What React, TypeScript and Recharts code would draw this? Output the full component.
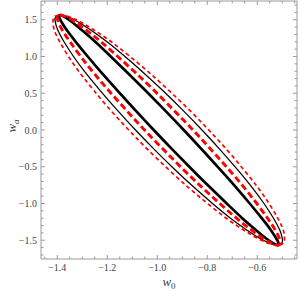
import React from 'react';
import { LineChart, Line, XAxis, YAxis, Label } from 'recharts';

// shared w_a levels (rows)
const yLevels = [1.567, 1.54, 1.47, 1.36, 1.2, 1.0, 0.78, 0.54, 0.27, 0, -0.27, -0.54, -0.78, -1.0, -1.2, -1.36, -1.47, -1.54, -1.567];

// thick black solid contour: right / left w0 at each level
const thickBlackRight = [-1.389, -1.371, -1.341, -1.302, -1.248, -1.186, -1.119, -1.048, -0.970, -0.894, -0.820, -0.748, -0.685, -0.630, -0.582, -0.546, -0.525, -0.515, -0.519];
const thickBlackLeft = [-1.389, -1.393, -1.383, -1.362, -1.326, -1.278, -1.223, -1.160, -1.088, -1.014, -0.938, -0.860, -0.789, -0.722, -0.660, -0.606, -0.567, -0.537, -0.519];

// thick red dashed contour
const thickRedRight = [-1.389, -1.364, -1.329, -1.284, -1.225, -1.158, -1.087, -1.013, -0.934, -0.857, -0.784, -0.713, -0.653, -0.602, -0.559, -0.528, -0.512, -0.508, -0.519];
const thickRedLeft = [-1.389, -1.400, -1.396, -1.380, -1.349, -1.306, -1.255, -1.195, -1.124, -1.051, -0.974, -0.895, -0.821, -0.750, -0.683, -0.624, -0.579, -0.544, -0.519];

// thin black solid contour
const thinBlackRight = [-1.389, -1.357, -1.316, -1.266, -1.201, -1.129, -1.055, -0.979, -0.898, -0.821, -0.748, -0.679, -0.621, -0.573, -0.535, -0.510, -0.500, -0.501, -0.519];
const thinBlackLeft = [-1.389, -1.407, -1.408, -1.398, -1.373, -1.335, -1.287, -1.229, -1.160, -1.087, -1.010, -0.929, -0.853, -0.779, -0.707, -0.642, -0.592, -0.551, -0.519];

// thin red dashed contour
const thinRedRight = [-1.389, -1.352, -1.307, -1.253, -1.184, -1.109, -1.032, -0.954, -0.871, -0.794, -0.721, -0.654, -0.598, -0.553, -0.518, -0.496, -0.491, -0.496, -0.519];
const thinRedLeft = [-1.389, -1.412, -1.417, -1.412, -1.390, -1.355, -1.310, -1.254, -1.187, -1.114, -1.037, -0.954, -0.876, -0.799, -0.724, -0.655, -0.601, -0.556, -0.519];

const xTicks = [-1.45, -1.4, -1.35, -1.3, -1.25, -1.2, -1.15, -1.1, -1.05, -1.0, -0.95, -0.9, -0.85, -0.8, -0.75, -0.7, -0.65, -0.6, -0.55, -0.5, -0.45];
const xMajor = [-1.4, -1.2, -1.0, -0.8, -0.6];
const yTicks = [-1.7, -1.6, -1.5, -1.4, -1.3, -1.2, -1.1, -1.0, -0.9, -0.8, -0.7, -0.6, -0.5, -0.4, -0.3, -0.2, -0.1, 0, 0.1, 0.2, 0.3, 0.4, 0.5, 0.6, 0.7, 0.8, 0.9, 1.0, 1.1, 1.2, 1.3, 1.4, 1.5, 1.6, 1.7];
const yMajor = [-1.5, -1.0, -0.5, 0, 0.5, 1.0, 1.5];

const FRAME = '#9a9a9a';
const TEXT = '#444';
const SERIF = '"Liberation Serif", "Times New Roman", serif';

function loop(right: number[], left: number[]) {
  const pts: { x: number; y: number }[] = [];
  for (let i = 0; i < yLevels.length; i++) pts.push({ x: right[i], y: yLevels[i] });
  for (let i = yLevels.length - 2; i >= 0; i--) pts.push({ x: left[i], y: yLevels[i] });
  return pts;
}

const isMajor = (list: number[], v: number) => list.some((m) => Math.abs(m - v) < 1e-6);
const fmt = (v: number) => (v < 0 ? '\u2212' : '') + Math.abs(v).toFixed(1);

const BottomTick = (props: any) => {
  const { x, y, payload } = props;
  const major = isMajor(xMajor, payload.value);
  return (
    <g>
      <line x1={x} y1={y} x2={x} y2={y - (major ? 4 : 2.5)} stroke={FRAME} strokeWidth={1} />
      {major && (
        <text x={x} y={y + 12} textAnchor="middle" fontFamily={SERIF} fontSize={10} fill={TEXT}>
          {fmt(payload.value)}
        </text>
      )}
    </g>
  );
};

const TopTick = (props: any) => {
  const { x, y, payload } = props;
  const major = isMajor(xMajor, payload.value);
  return <line x1={x} y1={y} x2={x} y2={y + (major ? 4 : 2.5)} stroke={FRAME} strokeWidth={1} />;
};

const LeftTick = (props: any) => {
  const { x, y, payload } = props;
  const major = isMajor(yMajor, payload.value);
  return (
    <g>
      <line x1={x} y1={y} x2={x + (major ? 4 : 2.5)} y2={y} stroke={FRAME} strokeWidth={1} />
      {major && (
        <text x={x - 4} y={y + 3.5} textAnchor="end" fontFamily={SERIF} fontSize={10} fill={TEXT}>
          {fmt(payload.value)}
        </text>
      )}
    </g>
  );
};

const RightTick = (props: any) => {
  const { x, y, payload } = props;
  const major = isMajor(yMajor, payload.value);
  return <line x1={x} y1={y} x2={x - (major ? 4 : 2.5)} y2={y} stroke={FRAME} strokeWidth={1} />;
};

const XLabel = (props: any) => {
  const vb = props.viewBox || { x: 41, y: 259, width: 256, height: 32 };
  const cx = vb.x + vb.width / 2;
  return (
    <text x={cx} y={vb.y + 27} textAnchor="middle" fontFamily={SERIF} fontSize={13} fill={TEXT} fontStyle="italic">
      w<tspan fontSize={9} fontStyle="normal" dy={3}>0</tspan>
    </text>
  );
};

const YLabel = () => {
  const cx = 15.5;
  const cy = 126;
  return (
    <text x={cx} y={cy} transform={`rotate(-90, ${cx}, ${cy})`} textAnchor="middle" fontFamily={SERIF} fontSize={13} fill={TEXT} fontStyle="italic">
      w<tspan fontSize={9} dy={3}>a</tspan>
    </text>
  );
};

const series = [
  { key: 'tb', data: loop(thickBlackRight, thickBlackLeft), stroke: '#000', width: 2.7, dash: undefined },
  { key: 'nb', data: loop(thinBlackRight, thinBlackLeft), stroke: '#000', width: 1.25, dash: undefined },
  { key: 'tr', data: loop(thickRedRight, thickRedLeft), stroke: '#ff0000', width: 2.9, dash: '6.5 3.5' },
  { key: 'nr', data: loop(thinRedRight, thinRedLeft), stroke: '#ff0000', width: 1.7, dash: '4 3' },
];

export default function App() {
  return (
    <div style={{ position: 'absolute', left: 0, top: 0, width: 300, height: 291, background: '#fff' }}>
      <LineChart width={300} height={291} margin={{ top: 0, right: 0, bottom: 0, left: 0 }}>
        <XAxis
          xAxisId={0}
          dataKey="x"
          type="number"
          domain={[-1.465, -0.441]}
          allowDataOverflow
          ticks={xTicks}
          interval={0}
          tickSize={0}
          tickMargin={0}
          tickLine={false}
          tick={<BottomTick />}
          height={32}
          stroke={FRAME}
        >
          <Label content={<XLabel />} />
        </XAxis>
        <XAxis
          xAxisId="top"
          orientation="top"
          dataKey="x"
          type="number"
          domain={[-1.465, -0.441]}
          allowDataOverflow
          ticks={xTicks}
          interval={0}
          tickSize={0}
          tickMargin={0}
          tickLine={false}
          tick={<TopTick />}
          height={1}
          stroke={FRAME}
        />
        <YAxis
          yAxisId={0}
          dataKey="y"
          type="number"
          domain={[-1.755, 1.755]}
          allowDataOverflow
          ticks={yTicks}
          interval={0}
          tickSize={0}
          tickMargin={0}
          tickLine={false}
          tick={<LeftTick />}
          width={41}
          stroke={FRAME}
        >
          <Label content={<YLabel />} />
        </YAxis>
        <YAxis
          yAxisId="right"
          orientation="right"
          dataKey="y"
          type="number"
          domain={[-1.755, 1.755]}
          allowDataOverflow
          ticks={yTicks}
          interval={0}
          tickSize={0}
          tickMargin={0}
          tickLine={false}
          tick={<RightTick />}
          width={3}
          stroke={FRAME}
        />
        {series.map((s) => (
          <Line
            key={s.key}
            xAxisId={0}
            yAxisId={0}
            data={s.data}
            dataKey="y"
            type="natural"
            stroke={s.stroke}
            strokeWidth={s.width}
            strokeDasharray={s.dash}
            dot={false}
            activeDot={false}
            isAnimationActive={false}
            legendType="none"
          />
        ))}
      </LineChart>
    </div>
  );
}
